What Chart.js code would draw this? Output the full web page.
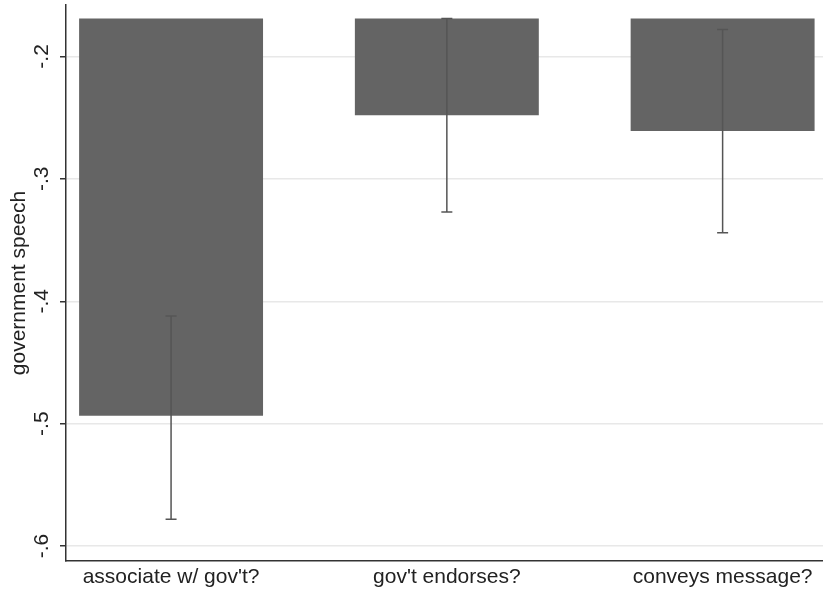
<!DOCTYPE html>
<html>
<head>
<meta charset="utf-8">
<script src="https://cdn.jsdelivr.net/npm/chart.js@4/dist/chart.umd.min.js"></script>
<style>
  body { margin: 0; background: #fff; }
  #wrap { width: 823px; height: 594px; position: relative; }
</style>
</head>
<body>
<div id="wrap"><canvas id="speechChart"></canvas></div>
<script>
// values
const categories = ["associate w/ gov't?", "gov't endorses?", "conveys message?"]
const barBase = -0.169
const means = [-0.4935, -0.248, -0.261]
const ciUpper = [-0.412, -0.169, -0.178]
const ciLower = [-0.578, -0.327, -0.344]
const yTicks = [-0.2, -0.3, -0.4, -0.5, -0.6]
const yTickLabels = ['-.2', '-.3', '-.4', '-.5', '-.6']
const yTitle = 'government speech'

const FONT = "'Liberation Sans', Arial, sans-serif"

// error bars + rotated y labels (Stata style)
const extras = {
  id: 'extras',
  afterDatasetsDraw(chart) {
    const ctx = chart.ctx
    const xs = chart.scales.x
    const ys = chart.scales.y
    ctx.save()
    ctx.strokeStyle = '#555'
    ctx.lineWidth = 1.5
    means.forEach((m, i) => {
      const x = xs.getPixelForValue(i)
      const top = ys.getPixelForValue(ciUpper[i])
      const bot = ys.getPixelForValue(ciLower[i])
      ctx.beginPath()
      ctx.moveTo(x, top)
      ctx.lineTo(x, bot)
      ctx.moveTo(x - 5.5, top)
      ctx.lineTo(x + 5.5, top)
      ctx.moveTo(x - 5.5, bot)
      ctx.lineTo(x + 5.5, bot)
      ctx.stroke()
    })
    ctx.restore()
  },
  afterDraw(chart) {
    const ctx = chart.ctx
    const ys = chart.scales.y
    ctx.save()
    ctx.fillStyle = '#222'
    ctx.textAlign = 'center'
    ctx.textBaseline = 'middle'
    ctx.font = '21px ' + FONT
    yTicks.forEach((v, i) => {
      ctx.save()
      ctx.translate(42, ys.getPixelForValue(v))
      ctx.rotate(-Math.PI / 2)
      ctx.fillText(yTickLabels[i], 0, 0)
      ctx.restore()
    })
    ctx.font = '21px ' + FONT
    ctx.translate(19, 283)
    ctx.rotate(-Math.PI / 2)
    ctx.fillText(yTitle, 0, 0)
    ctx.restore()
  }
}

new Chart(document.getElementById('speechChart'), {
  type: 'bar',
  data: {
    datasets: [{
      data: means.map((m, i) => ({ x: i, y: [barBase, m] })),
      backgroundColor: '#646464',
      borderWidth: 0,
      barPercentage: 0.667,
      categoryPercentage: 1
    }]
  },
  options: {
    responsive: true,
    maintainAspectRatio: false,
    animation: false,
    layout: { padding: { left: 60, top: 5, right: 0, bottom: 0 } },
    plugins: {
      legend: { display: false },
      tooltip: { enabled: false }
    },
    scales: {
      x: {
        type: 'linear',
        offset: false,
        min: -0.381,
        max: 2.364,
        afterBuildTicks: (scale) => { scale.ticks = categories.map((c, i) => ({ value: i })) },
        ticks: {
          autoSkip: false,
          maxRotation: 0,
          padding: 4,
          color: '#222',
          font: { family: FONT, size: 21 },
          callback: (v) => categories[v]
        },
        grid: { display: false, drawTicks: false },
        border: { color: '#333', width: 1.5 }
      },
      y: {
        min: -0.612,
        max: -0.158,
        afterBuildTicks: (scale) => { scale.ticks = yTicks.map(v => ({ value: v })) },
        ticks: { display: false },
        grid: { color: '#e8e8e8', lineWidth: 1.5, tickLength: 6, tickColor: '#333', tickWidth: 1.5 },
        border: { color: '#333', width: 1.5 }
      }
    }
  },
  plugins: [extras]
})
</script>
</body>
</html>
